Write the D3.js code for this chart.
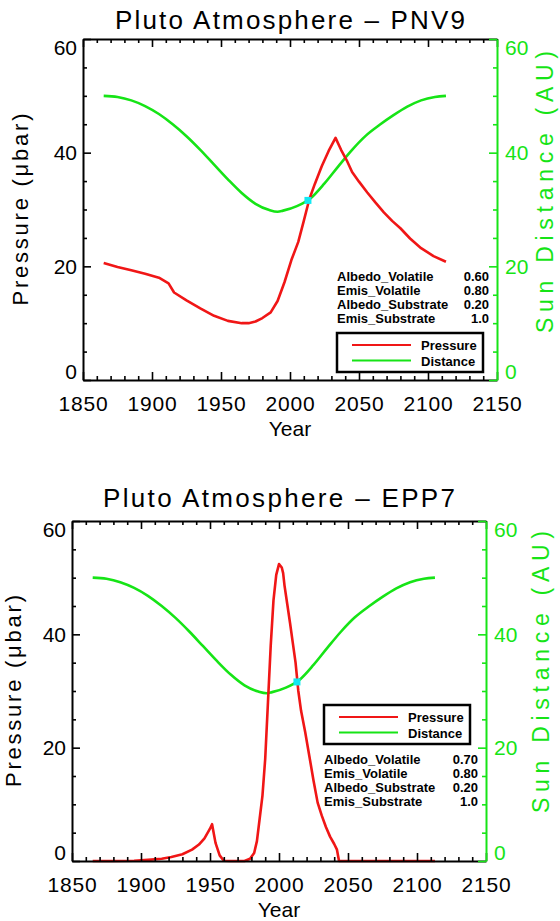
<!DOCTYPE html>
<html>
<head>
<meta charset="utf-8">
<script src="https://cdn.jsdelivr.net/npm/d3@7"></script>
<style>
body { margin: 0; background: #fff; }
text { font-family: "Liberation Sans", Arial, sans-serif; }
</style>
</head>
<body>
<svg id="chart" width="560" height="921"></svg>
<script>
// Sun distance of Pluto (AU), same curve in both panels
var dist_years = [1865, 1875, 1885, 1895, 1905, 1915, 1925, 1935, 1945, 1955, 1965, 1975, 1985, 1991, 1995, 2005, 2015, 2025, 2035, 2045, 2055, 2065, 2075, 2085, 2095, 2105, 2113];
var dist_au    = [50.0, 49.8, 49.2, 48.2, 46.8, 45.0, 42.9, 40.5, 37.9, 35.3, 32.9, 31.0, 29.9, 29.6, 29.8, 30.6, 32.0, 34.6, 37.6, 40.5, 43.0, 44.9, 46.6, 48.1, 49.2, 49.8, 50.0];

// PNV9 surface pressure (microbar)
var pnv9_years = [1865, 1875, 1885, 1895, 1905, 1912, 1916, 1925, 1935, 1945, 1955, 1965, 1970, 1975, 1980, 1986, 1991, 1996, 2001, 2006, 2010, 2014, 2018, 2023, 2028, 2033, 2037, 2041, 2045, 2050, 2056, 2062, 2068, 2074, 2080, 2087, 2095, 2104, 2113];
var pnv9_pres  = [20.6, 19.9, 19.3, 18.7, 18.0, 17.0, 15.4, 14.0, 12.6, 11.3, 10.4, 10.0, 10.0, 10.3, 10.9, 11.9, 13.9, 17.2, 21.1, 24.3, 28.0, 31.8, 34.5, 37.6, 40.3, 42.6, 40.5, 38.7, 36.6, 34.9, 33.0, 31.2, 29.5, 28.0, 26.7, 24.9, 23.2, 21.8, 20.8];

// EPP7 surface pressure (microbar)
var epp7_years = [1865, 1880, 1895, 1905, 1915, 1922, 1930, 1937, 1942, 1946, 1950, 1951.5, 1954, 1957, 1960, 1965, 1975, 1979, 1982, 1984, 1986, 1988, 1990, 1992, 1994, 1996, 1998, 2000, 2002, 2003, 2004, 2006, 2008, 2010, 2012, 2014, 2016, 2019, 2022, 2025, 2028, 2031, 2034, 2037, 2040, 2042, 2043.5, 2060, 2080, 2100, 2113];
var epp7_pres  = [0, 0, 0.05, 0.2, 0.4, 0.7, 1.2, 2.0, 2.9, 4.0, 5.7, 6.5, 3.2, 1.0, 0.05, 0, 0, 0.4, 1.4, 3.5, 7.5, 11.5, 18, 28, 38, 46, 50.5, 52.4, 51.8, 50.8, 48.6, 45.3, 42, 38.5, 35, 30, 26.5, 22.7, 18.5, 14.2, 10.3, 8.0, 6.0, 4.3, 3.0, 2.0, 0, 0, 0, 0, 0];

// current epoch marker on the distance curve
var marker_year = 2013;
var marker_dist = 31.6;

var param_names = ["Albedo_Volatile", "Emis_Volatile", "Albedo_Substrate", "Emis_Substrate"];
var pnv9_params = ["0.60", "0.80", "0.20", "1.0"];
var epp7_params = ["0.70", "0.80", "0.20", "1.0"];

var legend_names = ["Pressure", "Distance"];

var x_major = d3.range(1850, 2151, 50);
var x_minor = d3.range(1850, 2151, 10).filter(v => v % 50 != 0);
var y_major = [0, 20, 40, 60];
var y_minor = d3.range(0, 61, 5).filter(v => v % 20 != 0);

var RED = "#f01616";
var GREEN = "#16e416";
var CYAN = "#12e8f2";

var svg = d3.select("#chart");

function draw_panel(p) {
    var x = d3.scaleLinear().domain([1850, 2150]).range([p.left, p.right]);
    var y = d3.scaleLinear().domain([0, 60]).range([p.bottom, p.top]);
    var g = svg.append("g");

    // title
    g.append("text")
        .attr("x", (p.left + p.right) / 2)
        .attr("y", p.title_y)
        .attr("text-anchor", "middle")
        .attr("font-size", 26)
        .attr("textLength", p.title_len)
        .attr("lengthAdjust", "spacing")
        .text(p.title);

    // curves
    var dist_pts = dist_years.map((d, i) => [d, dist_au[i]]);
    var pres_pts = p.years.map((d, i) => [d, p.pres[i]]);
    var line = d3.line().x(d => x(d[0])).y(d => y(d[1])).curve(d3.curveMonotoneX);
    g.append("path")
        .attr("d", line(dist_pts))
        .attr("fill", "none")
        .attr("stroke", GREEN)
        .attr("stroke-width", 2.6);
    g.append("path")
        .attr("d", d3.line().x(d => x(d[0])).y(d => y(d[1]))(pres_pts))
        .attr("fill", "none")
        .attr("stroke", RED)
        .attr("stroke-width", 2.6)
        .attr("stroke-linejoin", "round");

    g.append("rect")
        .attr("x", x(marker_year) - 3.5)
        .attr("y", y(marker_dist) - 3.5)
        .attr("width", 7)
        .attr("height", 7)
        .attr("fill", CYAN);

    // axes: major and minor ticks point inward
    function add_axis(axis_fn, scale, major, minor, tx, ty, color, labels) {
        var ax = g.append("g").attr("transform", "translate(" + tx + "," + ty + ")");
        ax.call(axis_fn(scale).tickValues(minor).tickSize(-4).tickSizeOuter(0).tickFormat(""));
        ax.select(".domain").remove();
        var ax2 = g.append("g").attr("transform", "translate(" + tx + "," + ty + ")");
        ax2.call(axis_fn(scale).tickValues(major).tickSize(-8).tickSizeOuter(0)
            .tickPadding(labels ? labels.pad : 0)
            .tickFormat(labels ? d3.format("d") : ""));
        ax2.attr("font-size", 21).attr("font-family", "Liberation Sans, Arial, sans-serif");
        ax2.select(".domain").attr("stroke", color).attr("stroke-width", 2);
        g.selectAll("line").attr("stroke-width", 1.6);
        ax.selectAll("line").attr("stroke", color);
        ax2.selectAll("line").attr("stroke", color);
        ax2.selectAll("text").attr("fill", color);
        return ax2;
    }

    var bx = add_axis(d3.axisBottom, x, x_major, x_minor, 0, p.bottom, "#000", {pad: 16});
    bx.selectAll("text").attr("letter-spacing", 0.8);
    add_axis(d3.axisTop, x, x_major, x_minor, 0, p.top, "#000", null);
    var ly = add_axis(d3.axisLeft, y, y_major, y_minor, p.left, 0, "#000", {pad: 6});
    var ry = add_axis(d3.axisRight, y, y_major, y_minor, p.right, 0, GREEN, {pad: 8});
    [ly, ry].forEach(function(a) {
        a.selectAll(".tick text").attr("dy", d => d == 60 ? "0.75em" : d == 0 ? "-0.05em" : "0.32em");
    });

    // axis titles
    g.append("text")
        .attr("x", (p.left + p.right) / 2)
        .attr("y", p.bottom + 56)
        .attr("text-anchor", "middle")
        .attr("font-size", 21)
        .text("Year");
    g.append("text")
        .attr("transform", "translate(" + p.ylab_x + "," + ((p.top + p.bottom) / 2) + ") rotate(-90)")
        .attr("text-anchor", "middle")
        .attr("font-size", 22)
        .attr("textLength", 192)
        .attr("lengthAdjust", "spacing")
        .text("Pressure (μbar)");
    g.append("text")
        .attr("transform", "translate(" + p.y2lab_x + "," + p.y2lab_y + ") rotate(-90)")
        .attr("text-anchor", "middle")
        .attr("font-size", 23)
        .attr("fill", GREEN)
        .attr("textLength", 282)
        .attr("lengthAdjust", "spacing")
        .text("Sun Distance (AU)");

    // parameter block
    param_names.forEach(function(name, i) {
        g.append("text")
            .attr("x", p.par_x)
            .attr("y", p.par_y + i * 14)
            .attr("font-size", 13)
            .attr("font-weight", "bold")
            .text(name);
        g.append("text")
            .attr("x", p.par_x2)
            .attr("y", p.par_y + i * 14)
            .attr("text-anchor", "end")
            .attr("font-size", 13)
            .attr("font-weight", "bold")
            .text(p.params[i]);
    });

    // legend
    var lg = svg.append("g").attr("transform", "translate(" + p.leg_x + "," + p.leg_y + ")");
    lg.append("rect")
        .attr("width", 146)
        .attr("height", 39)
        .attr("fill", "#fff")
        .attr("stroke", "#000")
        .attr("stroke-width", 2.5);
    [RED, GREEN].forEach(function(c, i) {
        lg.append("line")
            .attr("x1", 15).attr("x2", 74)
            .attr("y1", 12 + i * 15.5).attr("y2", 12 + i * 15.5)
            .attr("stroke", c)
            .attr("stroke-width", 2.2);
        lg.append("text")
            .attr("x", 84)
            .attr("y", 17 + i * 15.5)
            .attr("font-size", 13)
            .attr("font-weight", "bold")
            .text(legend_names[i]);
    });
}

draw_panel({
    title: "Pluto Atmosphere – PNV9", title_y: 29, title_len: 350,
    left: 83, right: 497, top: 39, bottom: 380,
    years: pnv9_years, pres: pnv9_pres, params: pnv9_params,
    ylab_x: 28, y2lab_x: 553, y2lab_y: 192,
    par_x: 337, par_x2: 489, par_y: 281,
    leg_x: 337, leg_y: 333
});

draw_panel({
    title: "Pluto Atmosphere – EPP7", title_y: 507, title_len: 352,
    left: 72, right: 486, top: 521, bottom: 861,
    years: epp7_years, pres: epp7_pres, params: epp7_params,
    ylab_x: 21, y2lab_x: 549, y2lab_y: 672,
    par_x: 324, par_x2: 478, par_y: 764,
    leg_x: 324, leg_y: 705
});
</script>
</body>
</html>
